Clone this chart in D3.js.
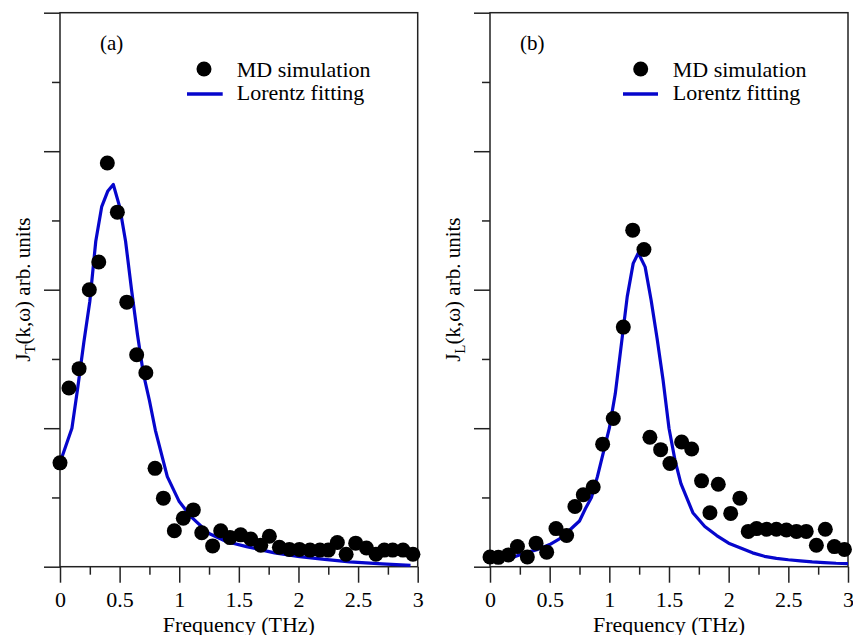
<!DOCTYPE html>
<html>
<head>
<meta charset="utf-8">
<script src="https://cdn.jsdelivr.net/npm/d3@7"></script>
<style>
  body { margin: 0; background: #fff; }
  svg { display: block; }
  svg text { font-family: "Liberation Serif", Tinos, "Times New Roman", Times, "DejaVu Serif", "Noto Serif", serif; fill: #000; }
</style>
</head>
<body>
<svg id="chart" width="853" height="635"></svg>
<script>
// Frequency (THz) of the MD simulation samples and their spectral intensities, panel (a) transverse
const mdFreqA = [0, 0.075, 0.16, 0.246, 0.325, 0.397, 0.481, 0.56, 0.643, 0.72, 0.797, 0.867, 0.959, 1.034, 1.118, 1.189, 1.28, 1.348, 1.426, 1.515, 1.6, 1.684, 1.756, 1.84, 1.924, 2.008, 2.097, 2.18, 2.25, 2.326, 2.4, 2.48, 2.57, 2.65, 2.72, 2.79, 2.877, 2.96];
const mdValA  = [1.5, 2.58, 2.86, 4.0, 4.4, 5.83, 5.12, 3.82, 3.06, 2.8, 1.42, 0.99, 0.52, 0.7, 0.82, 0.49, 0.3, 0.52, 0.42, 0.46, 0.4, 0.31, 0.44, 0.28, 0.25, 0.25, 0.24, 0.24, 0.24, 0.35, 0.18, 0.34, 0.27, 0.18, 0.24, 0.24, 0.24, 0.18];

// Lorentz fit, panel (a)
const fitFreqA = [0, 0.05, 0.1, 0.15, 0.2, 0.25, 0.3, 0.35, 0.4, 0.447, 0.5, 0.55, 0.6, 0.65, 0.7, 0.75, 0.8, 0.9, 1.0, 1.1, 1.25, 1.4, 1.565, 1.8, 2.01, 2.2, 2.43, 2.7, 2.94];
const fitValA  = [1.5, 1.75, 2.0, 2.6, 3.24, 3.83, 4.7, 5.2, 5.42, 5.52, 5.2, 4.7, 4.0, 3.35, 2.78, 2.4, 1.97, 1.3, 0.94, 0.72, 0.48, 0.36, 0.29, 0.2, 0.145, 0.11, 0.07, 0.04, 0.02];

// MD simulation, panel (b) longitudinal
const mdFreqB = [0, 0.07, 0.154, 0.23, 0.313, 0.386, 0.475, 0.553, 0.642, 0.712, 0.782, 0.865, 0.944, 1.033, 1.117, 1.196, 1.29, 1.34, 1.43, 1.508, 1.606, 1.69, 1.773, 1.843, 1.913, 2.017, 2.094, 2.164, 2.234, 2.318, 2.4, 2.484, 2.568, 2.65, 2.735, 2.81, 2.886, 2.97];
const mdValB  = [0.14, 0.135, 0.17, 0.29, 0.14, 0.34, 0.21, 0.55, 0.45, 0.87, 1.04, 1.15, 1.77, 2.14, 3.46, 4.86, 4.58, 1.87, 1.69, 1.49, 1.8, 1.7, 1.24, 0.78, 1.19, 0.77, 0.99, 0.51, 0.55, 0.54, 0.54, 0.53, 0.51, 0.51, 0.31, 0.54, 0.29, 0.25];

// Lorentz fit, panel (b)
const fitFreqB = [0.01, 0.1, 0.2, 0.3, 0.4, 0.5, 0.6, 0.7, 0.75, 0.8, 0.85, 0.9, 0.95, 1.0, 1.05, 1.1, 1.15, 1.2, 1.243, 1.3, 1.35, 1.4, 1.45, 1.5, 1.55, 1.6, 1.7, 1.8, 1.9, 2.0, 2.1, 2.2, 2.3, 2.4, 2.5, 2.6, 2.7, 2.8, 2.9, 3.0];
const fitValB  = [0.09, 0.11, 0.14, 0.2, 0.25, 0.32, 0.42, 0.58, 0.66, 0.84, 1.0, 1.3, 1.65, 2.0, 2.5, 3.2, 3.9, 4.38, 4.53, 4.33, 3.85, 3.3, 2.7, 2.0, 1.54, 1.2, 0.78, 0.58, 0.45, 0.34, 0.27, 0.2, 0.15, 0.12, 0.1, 0.085, 0.07, 0.06, 0.05, 0.045];

const xMajorTicks = [0, 0.5, 1, 1.5, 2, 2.5, 3];
const xMinorTicks = [0.25, 0.75, 1.25, 1.75, 2.25, 2.75];
const xTickLabels = ["0", "0.5", "1", "1.5", "2", "2.5", "3"];
const yMajorTicks = [0, 2, 4, 6, 8];
const yMinorTicks = [1, 3, 5, 7];
const panelTags = ["(a)", "(b)"];
const subscripts = ["T", "L"];
const legendLabels = ["MD simulation", "Lorentz fitting"];
const xTitle = "Frequency (THz)";

const SERIF = '"Liberation Serif", Tinos, "Times New Roman", Times, "DejaVu Serif", "Noto Serif", serif';
const BLUE = "#0606cc";
const AXIS = "#222";
const svg = d3.select("#chart");
svg.append("rect").attr("width", 853).attr("height", 635).attr("fill", "#fff");

const plotTop = 12.7, plotBottom = 566.7;

const panels = [
  { left: 60, right: 417.7, tagX: 100, yLabelX: 30, mkX: 204, lineX: [187, 222.7], txtX: 236.7,
    mdF: mdFreqA, mdV: mdValA, fitF: fitFreqA, fitV: fitValA },
  { left: 490, right: 848, tagX: 520, yLabelX: 460, mkX: 640.7, lineX: [623, 658], txtX: 672.7,
    mdF: mdFreqB, mdV: mdValB, fitF: fitFreqB, fitV: fitValB }
];

function label(sel, size) {
  return sel.attr("font-family", SERIF).style("font-family", SERIF)
    .style("font-size", size + "px").attr("fill", "#000");
}

panels.forEach((p, i) => {
  const x = d3.scaleLinear().domain([0, 3]).range([p.left, p.right]);
  const y = d3.scaleLinear().domain([0, 8]).range([plotBottom, plotTop]);
  const g = svg.append("g");

  // y ticks (left, no labels)
  const yMaj = g.append("g").attr("transform", `translate(${p.left},0)`)
    .call(d3.axisLeft(y).tickValues(yMajorTicks).tickSize(16).tickSizeOuter(0).tickFormat(""));
  const yMin = g.append("g").attr("transform", `translate(${p.left},0)`)
    .call(d3.axisLeft(y).tickValues(yMinorTicks).tickSize(8).tickSizeOuter(0).tickFormat(""));

  // x ticks (bottom)
  const xMaj = g.append("g").attr("transform", `translate(0,${plotBottom})`)
    .call(d3.axisBottom(x).tickValues(xMajorTicks).tickSize(16).tickSizeOuter(0)
      .tickFormat((d, k) => xTickLabels[k]));
  const xMin = g.append("g").attr("transform", `translate(0,${plotBottom})`)
    .call(d3.axisBottom(x).tickValues(xMinorTicks).tickSize(8).tickSizeOuter(0).tickFormat(""));

  [yMaj, yMin, xMaj, xMin].forEach(a => {
    a.attr("font-family", SERIF);
    a.select(".domain").remove();
    a.selectAll("line").attr("stroke", AXIS).attr("stroke-width", 1.5);
  });
  label(xMaj.selectAll("text").attr("y", 40).attr("dy", 0), 22);

  // frame
  g.append("rect")
    .attr("x", p.left).attr("y", plotTop)
    .attr("width", p.right - p.left).attr("height", plotBottom - plotTop)
    .attr("fill", "none").attr("stroke", AXIS).attr("stroke-width", 1.5);

  // Lorentz fit line
  const fit = p.fitF.map((f, k) => [f, p.fitV[k]]);
  g.append("path")
    .datum(fit)
    .attr("fill", "none").attr("stroke", BLUE).attr("stroke-width", 3.2)
    .attr("stroke-linejoin", "round")
    .attr("d", d3.line().x(d => x(d[0])).y(d => y(d[1])));

  // MD simulation points
  const md = p.mdF.map((f, k) => [f, p.mdV[k]]);
  g.append("g").selectAll("circle").data(md).join("circle")
    .attr("cx", d => x(d[0])).attr("cy", d => y(d[1]))
    .attr("r", 7.5).attr("fill", "#000");

  // panel tag
  label(g.append("text").attr("x", p.tagX).attr("y", 50), 21).text(panelTags[i]);

  // legend
  g.append("circle").attr("cx", p.mkX).attr("cy", 69).attr("r", 7.5).attr("fill", "#000");
  label(g.append("text").attr("x", p.txtX).attr("y", 77), 22).text(legendLabels[0]);
  g.append("line").attr("x1", p.lineX[0]).attr("x2", p.lineX[1]).attr("y1", 94).attr("y2", 94)
    .attr("stroke", BLUE).attr("stroke-width", 3.5);
  label(g.append("text").attr("x", p.txtX).attr("y", 100), 22).text(legendLabels[1]);

  // x title
  label(g.append("text").attr("x", (p.left + p.right) / 2).attr("y", 631.5)
    .attr("text-anchor", "middle"), 22).text(xTitle);

  // y title
  const yt = label(g.append("text")
    .attr("transform", `translate(${p.yLabelX},${(plotTop + plotBottom) / 2}) rotate(-90)`)
    .attr("text-anchor", "middle"), 21);
  yt.append("tspan").text("J");
  yt.append("tspan").attr("dy", 5).style("font-size", "15px").text(subscripts[i]);
  yt.append("tspan").attr("dy", -5).text("(k,ω) arb. units");
});
</script>
</body>
</html>
